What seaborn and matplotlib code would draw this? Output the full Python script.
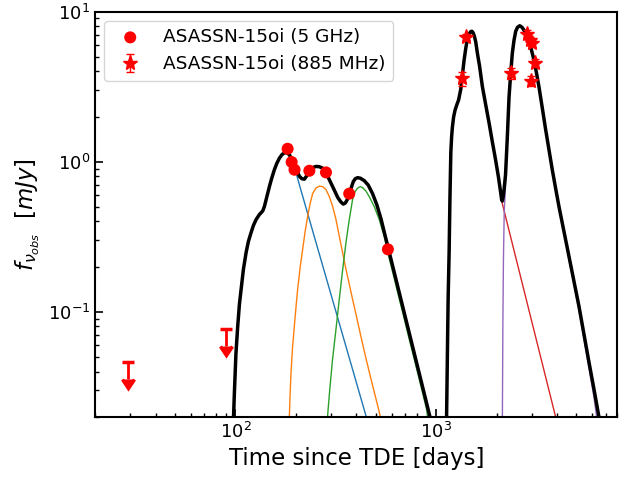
import numpy as np
import pandas as pd
import matplotlib
matplotlib.use("Agg")
import matplotlib.pyplot as plt
import seaborn as sns

# ---------------- data ----------------
# 5 GHz detections
t_5ghz = [182, 190.6, 197, 233.5, 282.6, 369, 575]
f_5ghz = [1.22, 0.995, 0.885, 0.871, 0.849, 0.613, 0.261]

# 885 MHz detections
t_885 = [1343, 1406, 2355, 2847, 2940, 3000, 3098, 2980]
f_885 = [3.59, 6.78, 3.88, 7.14, 6.45, 6.15, 4.56, 3.45]
e_885 = [0.40, 0.35, 0.30, 0.40, 0.35, 0.35, 0.30, 0.25]

# upper limits
t_ul = [29.1, 89.9]
f_ul = [0.0462, 0.0768]
e_ul = [0.0106, 0.0176]

# total model (black), first part
t_tot_a = [97.4, 98.86, 100.57, 102.67, 104.69, 106.75, 109.59, 113.05, 116.06, 119.70,
           122.90, 126.76, 131.64, 136.71, 139.41, 143.46, 147.63, 151.92, 156.34, 160.88,
           165.56, 170.37, 175.33, 180.42, 185.67, 191.06, 196.62, 202.33, 208.21, 214.26,
           220.48, 226.89, 233.48, 241.64, 252.12, 261.84, 271.93, 282.73, 293.64, 310.93,
           323.65, 335.73, 344.69, 352.68, 360.85, 369.22, 377.77, 386.53, 395.48, 406.06,
           418.82, 438.45, 459.0, 482.2, 505.9, 530.8, 551.2, 572.5, 593.9, 618.2,
           647.2, 679.9, 717.5, 762.5, 804.6, 855.0, 891.9, 923.1, 944.5]
f_tot_a = [0.01667, 0.0293, 0.0524, 0.0804, 0.1125, 0.1414, 0.1920, 0.2489, 0.2945, 0.3379,
           0.3760, 0.4122, 0.4449, 0.4694, 0.5029, 0.5858, 0.6823, 0.7830, 0.8849, 0.9774,
           1.0550, 1.1129, 1.1474, 1.1474, 1.1129, 1.0390, 0.9552, 0.8716, 0.8012, 0.7710,
           0.7652, 0.8075, 0.8650, 0.9124, 0.9307, 0.9265, 0.9055, 0.8453, 0.7595, 0.6470,
           0.5770, 0.5385, 0.5224, 0.5304, 0.5597, 0.6040, 0.6721, 0.7367, 0.7710, 0.7830,
           0.7771, 0.7481, 0.6983, 0.6133, 0.5184, 0.4183, 0.3405, 0.2776, 0.2279, 0.1834,
           0.1432, 0.1098, 0.0820, 0.0591, 0.04416, 0.03184, 0.02532, 0.02101, 0.01857]

# total model (black), second part
t_tot_b = [1125.2, 1130.4, 1138.2, 1147.4, 1160.6, 1171.3, 1183.4, 1194.3, 1205.3, 1222.0,
           1243.2, 1272.0, 1294.0, 1308.9, 1327.0, 1351.5, 1378.1, 1405.2, 1431.2, 1459.4,
           1484.7, 1507.0, 1527.8, 1550.7, 1575.8, 1604.9, 1645.9, 1699.5, 1762.9, 1835.0,
           1905.7, 1981.4, 2046.0, 2093.4, 2120.0, 2137.1, 2154.4, 2179.2, 2217.0, 2263.2,
           2307.7, 2353.1, 2396.6, 2443.7, 2491.8, 2543.6, 2608.6, 2678.2, 2740.3, 2819.9,
           2901.8, 2986.1, 3072.9, 3162.3, 3254.2, 3379.6, 3514.0, 3649.4, 3789.9, 3940.4,
           4092.3, 4334.0, 4589.9, 4860.0, 5146.5, 5450.1, 5770.4, 6110.8, 6471.3, 6621.2]
f_tot_b = [0.01667, 0.02634, 0.0540, 0.1214, 0.2489, 0.5597, 1.1474, 1.4655, 1.7071, 1.9887,
           2.2135, 2.4263, 2.5785, 2.7838, 3.0510, 3.7777, 4.7520, 5.7066, 6.5508, 7.0697,
           7.3451, 7.4014, 7.2330, 6.8569, 6.2556, 5.2881, 4.3356, 3.1696, 2.4263, 1.8145,
           1.3574, 1.0154, 0.7830, 0.6325, 0.5597, 0.5470, 0.5770, 0.6519, 0.8199, 1.4655,
           2.6998, 3.8960, 5.2881, 6.4520, 7.4014, 7.8664, 8.0495, 7.8664, 7.5146, 6.9092,
           6.3034, 5.5362, 4.7520, 3.8960, 3.1455, 2.2823, 1.6306, 1.2012, 0.8849, 0.6620,
           0.5029, 0.3431, 0.2342, 0.1599, 0.1091, 0.0711, 0.0464, 0.0307, 0.0200, 0.01718]

# individual components
t_c1 = [175.33, 185.67, 192.1, 200.5, 208.21, 447.1, 459.0]
f_c1 = [1.1474, 1.1045, 1.0154, 0.8453, 0.7034, 0.0203, 0.0177]

t_c2 = [184.6, 185.67, 187.3, 189.3, 192.8, 196.62, 200.5, 204.2, 210.1, 216.2,
        222.5, 228.9, 235.6, 242.5, 251.5, 261.84, 272.5, 282.73, 293.64, 304.9,
        317.0, 329.2, 341.9, 355.5, 369.22, 383.4, 398.6, 414.0, 438.45, 464.2,
        491.6, 520.5, 532.6]
f_c2 = [0.01667, 0.0200, 0.02844, 0.03981, 0.0592, 0.0804, 0.1091, 0.1414, 0.1980, 0.2606,
        0.3431, 0.4315, 0.5266, 0.6133, 0.6670, 0.6876, 0.6823, 0.6519, 0.5858, 0.5052,
        0.4122, 0.3193, 0.2489, 0.1920, 0.1527, 0.1214, 0.0966, 0.0768, 0.0548, 0.03981,
        0.0293, 0.0216, 0.01854]

t_c3 = [285.3, 287.9, 295.3, 304.9, 317.0, 329.2, 341.9, 355.5, 369.22, 383.4,
        394.6, 406.06, 417.9, 430.1, 447.1, 464.2, 491.6, 520.5, 551.2, 583.8,
        618.2, 654.6, 693.4, 734.1, 777.4, 823.2, 861.9, 891.9, 907.4, 923.1]
f_c3 = [0.01667, 0.0203, 0.0307, 0.0486, 0.0768, 0.1214, 0.1891, 0.2901, 0.4122, 0.5597,
        0.6325, 0.6670, 0.6823, 0.6721, 0.6373, 0.5858, 0.5029, 0.4122, 0.3179, 0.2272,
        0.1674, 0.1224, 0.0901, 0.0659, 0.0486, 0.0358, 0.0278, 0.0231, 0.0203, 0.01854]

t_c4 = [2057.7, 2122.4, 3940.4, 4045.7]
f_c4 = [0.7367, 0.5452, 0.01992, 0.01718]

t_c5 = [2137.1, 2149.4, 2164.2, 2184.1, 2212.0, 2242.6, 2307.7, 2353.1, 2396.6, 2443.7,
        2491.8, 2543.6, 2608.6, 2678.2, 2740.3, 2819.9, 2901.8, 2986.1, 3072.9, 3162.3,
        3254.2, 3379.6, 3514.0, 3649.4, 3789.9, 3940.4, 4092.3, 4334.0, 4589.9, 4860.0,
        5146.5, 5450.1, 5770.4, 6110.8, 6302.8, 6361.0]
f_c5 = [0.01667, 0.0768, 0.2238, 0.4658, 0.6519, 1.0310, 2.6595, 3.8370, 5.2081, 6.3533,
        7.2902, 7.7477, 7.9271, 7.7477, 7.4014, 6.8047, 6.2079, 5.4519, 4.6800, 3.8370,
        3.0976, 2.2475, 1.6058, 1.1830, 0.8716, 0.6519, 0.4915, 0.3329, 0.2254, 0.1527,
        0.1026, 0.0659, 0.0423, 0.02716, 0.0200, 0.01718]

xlim = (20, 8000)
ylim = (0.02, 10)

# ---------------- figure ----------------
plt.rcParams.update({
    "xtick.direction": "in", "ytick.direction": "in",
    "xtick.major.size": 6, "ytick.major.size": 6,
    "xtick.minor.size": 3, "ytick.minor.size": 3,
    "xtick.major.width": 1.2, "ytick.major.width": 1.2,
    "xtick.minor.width": 1.0, "ytick.minor.width": 1.0,
    "axes.linewidth": 1.5,
})

fig, ax = plt.subplots(figsize=(6.3, 4.83), dpi=100)
fig.subplots_adjust(left=0.151, right=0.980, bottom=0.137, top=0.976)
ax.set_xscale("log")
ax.set_yscale("log")

comp_colors = ["C0", "C1", "C2", "C3", "C4"]
comps = [(t_c1, f_c1), (t_c2, f_c2), (t_c3, f_c3), (t_c4, f_c4), (t_c5, f_c5)]
for (tc, fc), col in zip(comps, comp_colors):
    sns.lineplot(x=tc, y=fc, ax=ax, color=col, lw=1.0, estimator=None, sort=False)

for tt, ff in [(t_tot_a, f_tot_a), (t_tot_b, f_tot_b)]:
    sns.lineplot(x=tt, y=ff, ax=ax, color="black", lw=2.5, estimator=None, sort=False)

sns.scatterplot(x=t_5ghz, y=f_5ghz, ax=ax, color="red", s=75, edgecolor="none",
                label="ASASSN-15oi (5 GHz)", zorder=5)
ax.errorbar(t_885, f_885, yerr=e_885, fmt="*", color="red", ms=11, capsize=3,
            elinewidth=1, label="ASASSN-15oi (885 MHz)", zorder=6)
ax.errorbar(t_ul, f_ul, yerr=e_ul, uplims=True, fmt="none", color="red",
            elinewidth=2, capsize=4.5, capthick=2.5)

ax.set_xlim(*xlim)
ax.set_ylim(*ylim)
ax.tick_params(axis="both", which="both", top=False, right=False, labelsize=13)
ax.set_xlabel("Time since TDE [days]", fontsize=16.5)
ax.set_ylabel(r"$f_{\nu_{obs}}$  [$mJy$]", fontsize=16.5)
ax.legend(loc="upper left", fontsize=13.3)

fig.savefig("out.png", dpi=100)
